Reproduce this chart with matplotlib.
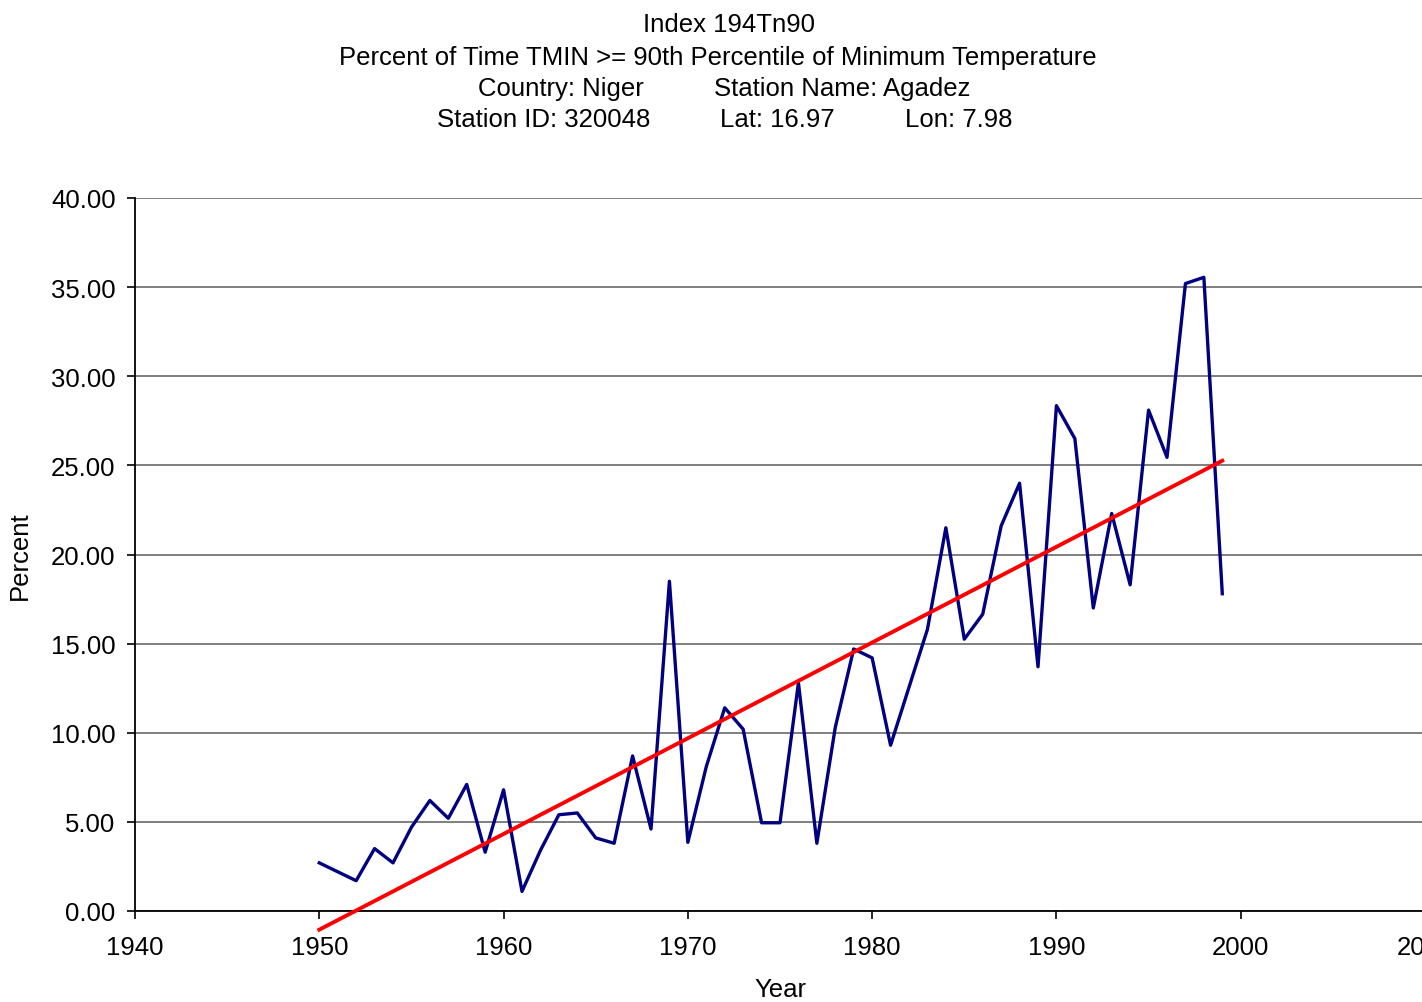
import matplotlib
matplotlib.use('Agg')
import numpy as np
import matplotlib.pyplot as plt

plt.rcParams['font.family'] = ['Liberation Sans', 'DejaVu Sans']

years = list(range(1950, 2000))
percent = [2.7, 2.2, 1.7, 3.5, 2.7, 4.7, 6.2, 5.2, 7.1, 3.3,
           6.8, 1.1, 3.4, 5.4, 5.5, 4.1, 3.8, 8.7, 4.6, 18.5,
           3.85, 8.1, 11.4, 10.2, 4.95, 4.95, 12.8, 3.8, 10.3, 14.7,
           14.2, 9.3, 12.55, 15.8, 21.5, 15.25, 16.65, 21.6, 24.0, 13.7,
           28.35, 26.5, 17.0, 22.3, 18.3, 28.1, 25.45, 35.2, 35.55, 17.8]

title_lines = ["Index 194Tn90",
               "Percent of Time TMIN >= 90th Percentile of Minimum Temperature"]
info_line3 = ["Country: Niger", "Station Name: Agadez"]
info_line4 = ["Station ID: 320048", "Lat: 16.97", "Lon: 7.98"]

W, H = 1422, 1003
FS = 18.5
fig = plt.figure(figsize=(W / 100, H / 100), dpi=100)
ax = fig.add_axes([135 / W, 1 - 912 / H, 1290 / W, 713 / H])

# trend line from least squares fit
slope, icpt = np.polyfit(years, percent, 1)
tx = np.array([years[0], years[-1]])

ax.plot(years, percent, color='#000080', lw=2.4, zorder=3)
ax.plot(tx, icpt + slope * tx, color='#ff0000', lw=2.8, clip_on=False, zorder=4)

ax.set_xlim(1940, 2010)
ax.set_ylim(0, 40)
ax.set_xticks(range(1940, 2011, 10))
ax.set_yticks(np.arange(0, 41, 5))
ax.set_yticklabels(["%.2f" % v for v in np.arange(0, 41, 5)])
ax.yaxis.grid(True, color='#7f7f7f', lw=1.4)
ax.set_axisbelow(True)
for s in ['top', 'right']:
    ax.spines[s].set_visible(False)
for s in ['left', 'bottom']:
    ax.spines[s].set_linewidth(1.3)
ax.tick_params(axis='both', direction='out', length=6, width=1.2, labelsize=FS)
ax.tick_params(axis='x', pad=11)
ax.tick_params(axis='y', pad=8)

ax.set_xlabel("Year", fontsize=FS, labelpad=13)
ax.set_ylabel("Percent", fontsize=FS, labelpad=14)

fig.text(729 / W, 1 - 25 / H, title_lines[0], ha='center', va='center', fontsize=FS)
fig.text(718 / W, 1 - 58 / H, title_lines[1], ha='center', va='center', fontsize=FS)
for txt, x0 in zip(info_line3, [478, 714]):
    fig.text(x0 / W, 1 - 89 / H, txt, ha='left', va='center', fontsize=FS)
for txt, x0 in zip(info_line4, [437, 720, 905]):
    fig.text(x0 / W, 1 - 120 / H, txt, ha='left', va='center', fontsize=FS)

plt.savefig("out.png", dpi=100)
